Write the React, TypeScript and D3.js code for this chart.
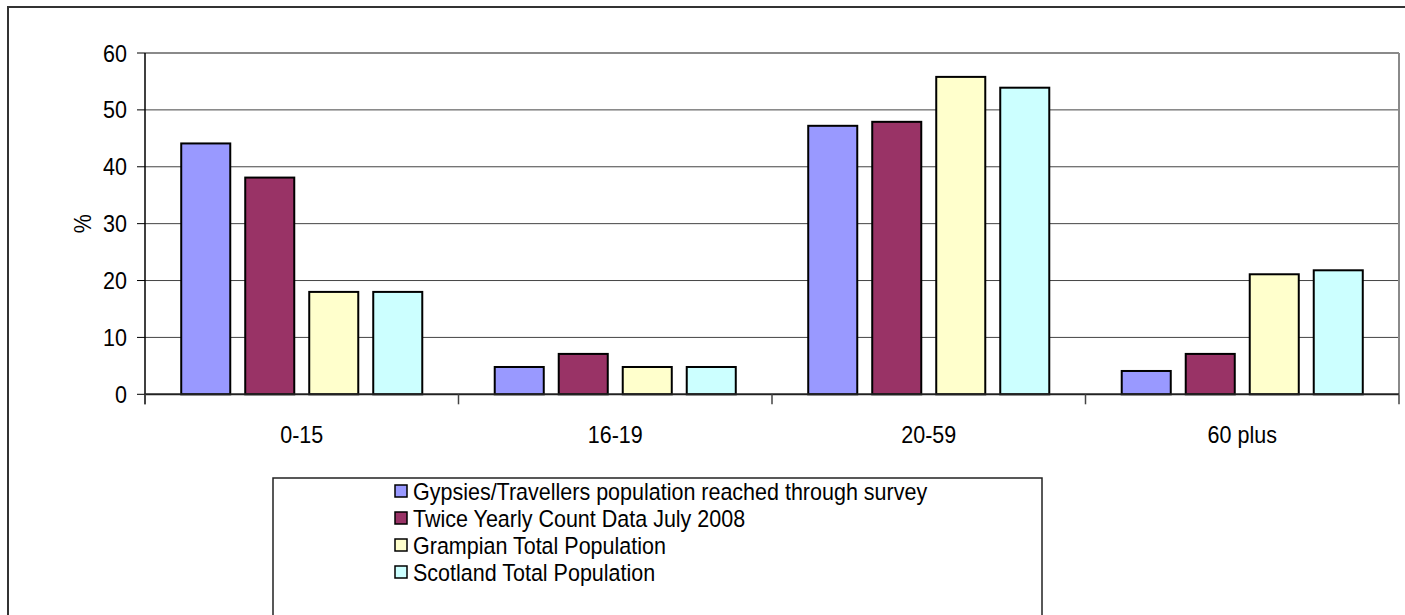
import * as d3 from 'd3';

const categories = ['0-15', '16-19', '20-59', '60 plus'];
const seriesNames = [
    'Gypsies/Travellers population reached through survey',
    'Twice Yearly Count Data July 2008',
    'Grampian Total Population',
    'Scotland Total Population',
];
const seriesColors = ['#9999FF', '#993366', '#FFFFCC', '#CCFFFF'];
// values per series, in category order
const gypsiesValues = [44.1, 4.8, 47.2, 4.1];
const countValues = [38.1, 7.1, 47.9, 7.1];
const grampianValues = [18.0, 4.8, 55.8, 21.1];
const scotlandValues = [18.0, 4.8, 53.9, 21.8];
const yTicks = [0, 10, 20, 30, 40, 50, 60];

const allSeries = [gypsiesValues, countValues, grampianValues, scotlandValues];

const W = 1405;
const H = 615;
const plot = { left: 145, right: 1399, top: 53, bottom: 394.3 };
const font = '"Liberation Sans", Arial, sans-serif';
const fs = 21.5;
// the original text is a bit taller than Arial
const stretch = 'scale(1,1.1)';

export default function App() {
    const x0 = d3.scaleBand().domain(categories).range([plot.left, plot.right]).paddingInner(0).paddingOuter(0);
    const x1 = d3
        .scaleBand()
        .domain(seriesNames)
        .range([0, x0.bandwidth()])
        .paddingInner(0.234)
        .paddingOuter(0.566);
    const y = d3.scaleLinear().domain([0, 60]).range([plot.bottom, plot.top]);

    const catEdges = categories.map((c) => x0(c) as number).concat([plot.right]);

    return (
        <svg width={W} height={H} style={{ position: 'absolute', left: 0, top: 0, background: '#fff' }} fontFamily={font}>
            {/* outer chart border */}
            <rect x={8} y={7} width={W + 20} height={H + 20} fill='none' stroke='#333' strokeWidth={2} />

            {/* gridlines */}
            {yTicks.slice(1, -1).map((t) => (
                <line key={t} x1={plot.left} x2={plot.right} y1={y(t)} y2={y(t)} stroke='#444' strokeWidth={1} />
            ))}
            {/* plot border top/right */}
            <line x1={plot.left} x2={plot.right} y1={y(60)} y2={y(60)} stroke='#8a8a8a' strokeWidth={2} />
            <line x1={plot.right} x2={plot.right} y1={plot.top} y2={plot.bottom} stroke='#8a8a8a' strokeWidth={2} />

            {/* bars */}
            {categories.map((c, ci) => (
                <g key={c} transform={`translate(${x0(c)},0)`}>
                    {allSeries.map((vals, si) => (
                        <rect
                            key={si}
                            x={x1(seriesNames[si]) as number}
                            y={y(vals[ci])}
                            width={x1.bandwidth()}
                            height={y(0) - y(vals[ci])}
                            fill={seriesColors[si]}
                            stroke='#000'
                            strokeWidth={2}
                        />
                    ))}
                </g>
            ))}

            {/* y axis */}
            <line x1={plot.left} x2={plot.left} y1={plot.top} y2={plot.bottom + 10} stroke='#000' strokeWidth={1.5} />
            {yTicks.map((t) => (
                <g key={t} transform={`translate(0,${y(t)})`}>
                    <line x1={plot.left - 8} x2={plot.left} stroke='#000' strokeWidth={1} />
                    <text transform={`translate(127,0) ${stretch}`} dy='0.36em' textAnchor='end' fontSize={fs} fill='#000'>
                        {t}
                    </text>
                </g>
            ))}
            <text
                transform={`translate(91,${(plot.top + plot.bottom) / 2}) rotate(-90) ${stretch}`}
                textAnchor='middle'
                fontSize={fs}
                fill='#000'
            >
                %
            </text>

            {/* x axis */}
            <line x1={plot.left} x2={plot.right} y1={plot.bottom} y2={plot.bottom} stroke='#222' strokeWidth={2} />
            {catEdges.map((e, i) => (
                <line key={i} x1={e} x2={e} y1={plot.bottom} y2={plot.bottom + 10} stroke='#444' strokeWidth={1.5} />
            ))}
            {categories.map((c) => (
                <text
                    key={c}
                    transform={`translate(${(x0(c) as number) + x0.bandwidth() / 2},442.5) ${stretch}`}
                    textAnchor='middle'
                    fontSize={fs}
                    fill='#000'
                >
                    {c}
                </text>
            ))}

            {/* legend */}
            <rect x={273} y={478} width={769} height={200} fill='#fff' stroke='#222' strokeWidth={1.5} />
            {seriesNames.map((n, i) => (
                <g key={n} transform={`translate(394,${491 + i * 27})`}>
                    <rect x={1} y={-6} width={12} height={12} fill={seriesColors[i]} stroke='#000' strokeWidth={1.5} />
                    <text transform={`translate(19,0) ${stretch}`} dy='0.36em' fontSize={fs} fill='#000'>
                        {n}
                    </text>
                </g>
            ))}
        </svg>
    );
}
